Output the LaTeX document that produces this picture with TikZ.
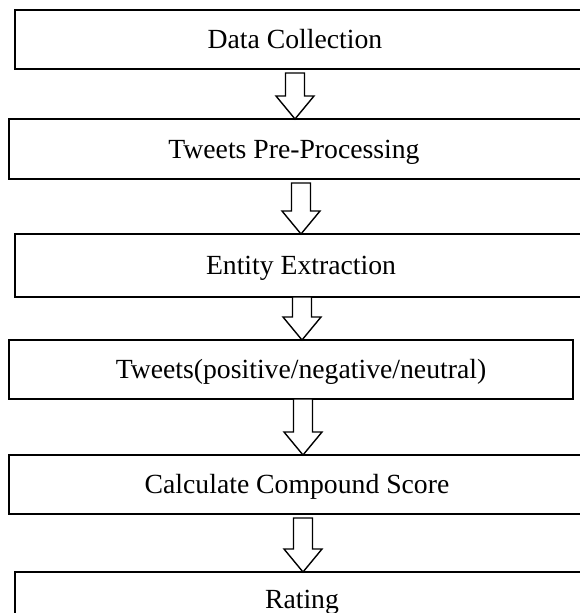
\documentclass[tikz,border=0pt]{standalone}
\usepackage{fontspec}
\setmainfont{Liberation Serif}
\usetikzlibrary{calc}
\newcommand\blockarr[4]{%
  \coordinate (ax) at (#1,0);
  \coordinate (as) at ($(ax |- #2.south)+(0,#4)$);
  \coordinate (ae) at (ax |- #3.north);
  \draw[barrow] ($(as)+(-9.5,0)$) |- ($(ae)+(-19,-23)$) -- (ae) -- ($(ae)+(19,-23)$) -| ($(as)+(9.5,0)$) -- cycle;
}
\begin{document}
\begin{tikzpicture}[x=1pt,y=-1pt,
  box/.style={draw, line width=1.8pt, rectangle, inner sep=0pt, outer sep=0pt, anchor=north west},
  lbl/.style={font=\fontsize{27.7}{33}\selectfont, anchor=base, inner sep=0pt},
  barrow/.style={draw, line width=1.4pt, fill=white, line join=miter}]
\useasboundingbox (0,0) rectangle (579,613);
\fill[white] (0,0) rectangle (579,613);

\node[box, minimum width=580pt, minimum height=59pt] (b1) at (15,10) {};
\node[box, minimum width=586pt, minimum height=60pt] (b2) at (9,119) {};
\node[box, minimum width=580pt, minimum height=63pt] (b3) at (15,234) {};
\node[box, minimum width=564pt, minimum height=59pt] (b4) at (9,340) {};
\node[box, minimum width=586pt, minimum height=59pt] (b5) at (9,455) {};
\node[box, minimum width=580pt, minimum height=60pt] (b6) at (15,572) {};

\node[lbl] (t1) at (295,48.5) {Data Collection};
\node[lbl] (t2) at (294,158) {Tweets Pre-Processing};
\node[lbl] (t3) at (301,274.5) {Entity Extraction};
\node[lbl] (t4) at (301,378.5) {Tweets(positive/negative/neutral)};
\node[lbl] (t5) at (297,493) {Calculate Compound Score};
\node[lbl] (t6) at (302,608) {Rating};

\blockarr{295}{b1}{b2}{4}
\blockarr{301}{b2}{b3}{4}
\blockarr{302}{b3}{b4}{0}
\blockarr{303}{b4}{b5}{0}
\blockarr{303}{b5}{b6}{4}
\end{tikzpicture}
\end{document}
